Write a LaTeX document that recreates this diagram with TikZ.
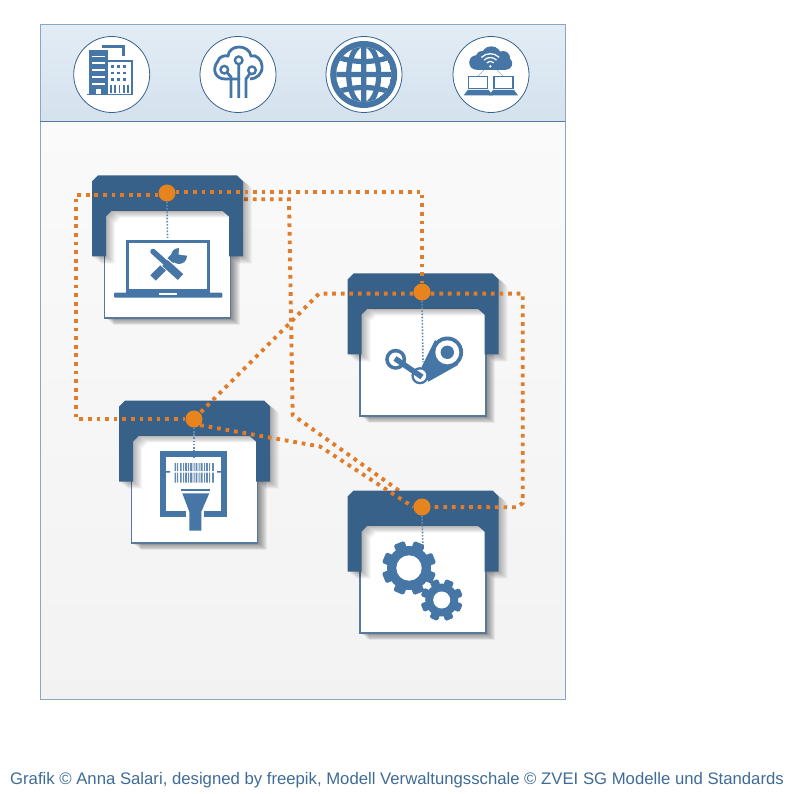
\documentclass[tikz,border=0pt]{standalone}
\usepackage{fontspec}
\setmainfont{Liberation Sans}
\usetikzlibrary{calc}
\definecolor{hdr}{HTML}{38618A}
\definecolor{ico}{HTML}{4676A5}
\definecolor{org}{HTML}{E8841E}
\definecolor{lnk}{HTML}{E07C2A}
\definecolor{bord}{HTML}{8AA6C1}
\definecolor{txtc}{HTML}{3F6C96}
\pgfdeclarelayer{base}\pgfdeclarelayer{under}\pgfdeclarelayer{shells}
\pgfsetlayers{base,under,shells,main}
\tikzset{
  x=1pt,y=-1pt,
  link/.style={draw=lnk,line width=3.9pt,dash pattern=on 3.7pt off 4.9pt},
  probe/.style={draw=ico!85,line width=1.6pt,dash pattern=on 1.6pt off 1.6pt},
  dotnode/.style={circle,fill=org,inner sep=0pt,minimum size=17pt},
  disc/.style={circle,draw=hdr,fill=white,line width=.8pt,inner sep=0pt,minimum size=76pt}
}
\newcommand{\hdrpath}{(6,0) -- (145,0) -- (151,6) -- (151,81) -- (137,81) -- (137,41) -- (130,35)
       -- (20,35) -- (14,41) -- (14,81) -- (0,81) -- (0,6) -- cycle}
% asset shell: #1 = left of header, #2 = top of header
\newcommand{\assetshell}[2]{%
  \begin{scope}[shift={(#1,#2)}]
    \foreach \d in {9,8,...,1}{
      \fill[black,opacity=.055] (12.5+\d,35) rectangle (138.5+\d,142.5+\d*.8);
    }
    \fill[white,draw=hdr!85,line width=1.3pt] (12.5,35) rectangle (138.5,142.5);
    \foreach \d in {9,8,...,1}{
      \begin{scope}[shift={(\d,\d*.8)}]
        \fill[black,opacity=.035] \hdrpath;
      \end{scope}
    }
    \fill[hdr] \hdrpath;
  \end{scope}}
\newcommand{\cogwheel}[5]{% x,y,outer,body,hole
  \begin{scope}[shift={(#1,#2)}]
    \fill[ico] (0,0) circle (#4);
    \foreach \a in {0,45,...,315}{
      \fill[ico,rounded corners=1.5pt,rotate=\a+22]
        (-#3*.21,-#4*.9) rectangle (#3*.21,-#3);
    }
    \fill[white] (0,0) circle (#5);
  \end{scope}}
\begin{document}
\begin{tikzpicture}
\useasboundingbox (0,0) rectangle (798,794);
\begin{pgfonlayer}{base}
\fill[white] (0,0) rectangle (798,794);
\shade[top color=black!2,bottom color=black!5] (40,122) rectangle (565,699);
\shade[top color={rgb,255:red,226;green,236;blue,245},bottom color={rgb,255:red,212;green,226;blue,238}] (40,25) rectangle (565,122);
\draw[bord,line width=1pt] (40,25) rectangle (565,699);
\draw[hdr!85,line width=1pt] (40,122) -- (565,122);
\end{pgfonlayer}
% discs
\node[disc] (d1) at (111.7,74.5) {};
\node[disc] (d2) at (238,74.5) {};
\node[disc] (d3) at (364,74.5) {};
\node[disc] (d4) at (491,74.5) {};
% building
\fill[ico] (89,50.3) rectangle (107.7,94);
\foreach \y in {55.7,62.3,69,76,83.2}{\fill[white] (91.7,\y) rectangle (105,\y+1.8);}
\fill[white] (96,88.7) rectangle (101,94);
\draw[ico,line width=2.5pt] (102,46.3) -- (123.3,46.3) -- (123.3,56);
\draw[ico,line width=2pt] (107,61.5) -- (131.5,61.5) -- (131.5,94);
\fill[ico] (87.3,93.7) rectangle (133.3,95.4);
\foreach \x in {112.3,118.3,124.3}{\foreach \y in {66.3,73,79.7}{\fill[ico] (\x-1.2,\y-1.2) rectangle +(2.5,2.5);}}
\foreach \x in {110.6,115,119.4,124,128.3}{\fill[ico] (\x-.9,85.3) rectangle +(1.8,8);}
% cloud tree
\draw[ico,line width=2.8pt] (240,79) -- (225,79) .. controls (216,79) and (211,70) .. (218,61)
  .. controls (219,57) and (224,55) .. (228,56)
  .. controls (229,44) and (249,44) .. (251,56)
  .. controls (256,54) and (262,60) .. (262,66)
  .. controls (263,74) and (256,79) .. (250,79);
\draw[ico,line width=2.4pt] (224.3,69.7) circle (3.8) (238.7,60.3) circle (3.8) (252,70.3) circle (3.8);
\draw[ico,line width=2.8pt] (238.7,64.5) -- (238.7,98)
  (227,72.5) -- (231,77) -- (231,98)
  (246,98) -- (246,79) -- (250,73.5);
% globe
\begin{scope}[shift={(363.7,74.5)}]
 \fill[ico] (0,0) circle (33.5);
 \begin{scope}
  \clip (0,0) circle (27.5);
  \fill[white] (0,0) circle (27.5);
  \draw[ico,line width=5.2pt] (0,0) ellipse (15 and 30) (0,-30) -- (0,30) (-30,0) -- (30,0);
  \draw[ico,line width=5.2pt] (-30,-19) .. controls (-12,-11) and (12,-11) .. (30,-19);
  \draw[ico,line width=5.2pt] (-30,19) .. controls (-12,11) and (12,11) .. (30,19);
 \end{scope}
\end{scope}
% cloud with laptops
\fill[ico] (491.3,56.5) circle (10.2) (476.5,62.5) circle (7.3) (503,58) circle (7) (506,63.5) circle (6.2) (482,57) circle (6);
\fill[ico] (476.5,60) rectangle (506,69.7);
\draw[white,line width=1.3pt] (490.3,66.3) ++(-45:5) arc (-45:-135:5);
\draw[white,line width=1.3pt] (490.3,66.3) ++(-45:8.8) arc (-45:-135:8.8);
\draw[white,line width=1.3pt] (490.3,66.3) ++(-45:12.6) arc (-45:-135:12.6);
\fill[white] (490.3,66.3) circle (1.3);
\draw[ico,line width=.3pt] (484,70) -- (478,76) (497,70) -- (503,76);
\foreach \x in {468.7,494}{
  \draw[ico,line width=1.5pt] (\x,76.4) rectangle +(19,12);
  \fill[ico] (\x-1,90) -- (\x+20,90) -- (\x+24,95.4) -- (\x-5,95.4) -- cycle;
}
% shells
\begin{pgfonlayer}{shells}
\assetshell{92}{175.5}
\assetshell{347.5}{273.5}
\assetshell{119}{400.5}
\assetshell{347.5}{490.5}
\end{pgfonlayer}
% dots
\node[dotnode] (a) at (167,193) {};
\node[dotnode] (b) at (422,292) {};
\node[dotnode] (c) at (194,419) {};
\node[dotnode] (d) at (422,507) {};
\coordinate (la1) at (422,191.7);
\coordinate (la2) at (76,195);
\coordinate (la3) at (76,419);
\coordinate (lb1) at (319,293.7);
\coordinate (lb2) at (522.7,293.7);
\coordinate (lb3) at (522.7,503);
\coordinate (lb4) at (517,507.3);
\coordinate (lc1) at (320,446.5);
\coordinate (le1) at (240,199.3);
\coordinate (le2) at (289,199.3);
\coordinate (le3) at (292.7,415);
\begin{pgfonlayer}{under}
\draw[link] (a) -- (le1) -- (le2) -- (le3) -- (d);
\end{pgfonlayer}
\draw[link] (a.east) ++(0,-1.3) -- (la1) -- (b.north);
\draw[link] (a.west) ++(0,2) -- (la2) -- (la3) -- (c.west);
\draw[link] (b.west) ++(0,1.7) -- (lb1) -- (c.north east);
\draw[link] (b.east) ++(0,1.7) -- (lb2) -- (lb3) -- (lb4) -- (d.east);
\draw[link] (c.south east) -- (lc1) -- (d.west);
\draw[probe] (a.south) -- (167.5,238);
\draw[probe] (b.south) -- (423,362);
\draw[probe] (c.south) -- (194,457);
\draw[probe] (d.south) -- (423,550);
% laptop with tools
\draw[ico,line width=3.4pt] (127.4,241.7) rectangle (208.3,291);
\fill[ico,rounded corners=1pt] (114,292.7) rectangle (222.3,297.7);
\fill[white] (159,293) rectangle (177,294.6);
\draw[ico,line width=7.5pt] (153,278) -- (176,255);
\fill[ico] (179,256) circle (8);
\fill[white] (178.5,254.5) -- (179.5,246) -- (190,247) -- (189,256) -- cycle;
\draw[white,line width=10pt] (163,261) -- (171,268);
\draw[ico,line width=5.5pt,line cap=round] (153,251.5) -- (168,265);
\draw[ico,line width=8pt] (165,263) -- (180.5,277);
% steam
\fill[ico] (435,340) -- (421.7,366.7) -- (428.3,381.7) -- (458,365) -- cycle;
\fill[ico] (447.3,352.3) circle (15.8);
\fill[white] (447.3,352.3) circle (12);
\fill[ico] (447.3,352.3) circle (6.7);
\fill[ico] (395.7,359.3) circle (10.5);
\fill[white] (395.7,359.3) circle (6.8);
\fill[ico] (420,375.7) circle (8.6);
\fill[white] (420,375.7) circle (6.2);
\draw[ico,line width=5.5pt] (395,358.5) -- (422,377);
% scanner
\draw[ico,line width=5.5pt] (186,514) -- (162.8,514) -- (162.8,453.8) -- (224,453.8) -- (224,514) -- (204.3,514);
\foreach \x/\w in {174.5/1.6,177/1.1,180/1.6,183/1,185/2,188/1,190/2.4,193.5/1,195.5/1.8,198.5/1,200.5/2,204/1,206/1.8,209/1,212/1.8}{
  \fill[ico!85] (\x,463) rectangle +(\w,8) (\x,472.5) rectangle +(\w,10);}
\fill[ico] (165,471) rectangle (170,472.6) (217,471) rectangle (222,472.6);
\fill[ico] (180.7,489.3) rectangle (210,491);
\fill[ico] (182.3,493.3) -- (209.3,493.3) -- (201.3,511.7) -- (201.3,530.7) -- (189.3,530.7) -- (189.3,511.7) -- cycle;
% gears
\cogwheel{409}{568}{27}{22}{12.7}
\cogwheel{441.7}{600}{21}{16.5}{8.5}
\node[font=\fontsize{16.72}{19}\selectfont,text=txtc,anchor=base,inner sep=0pt] (cap) at (397,784) {Grafik © Anna Salari, designed by freepik, Modell Verwaltungsschale © ZVEI SG Modelle und Standards};
\end{tikzpicture}
\end{document}
